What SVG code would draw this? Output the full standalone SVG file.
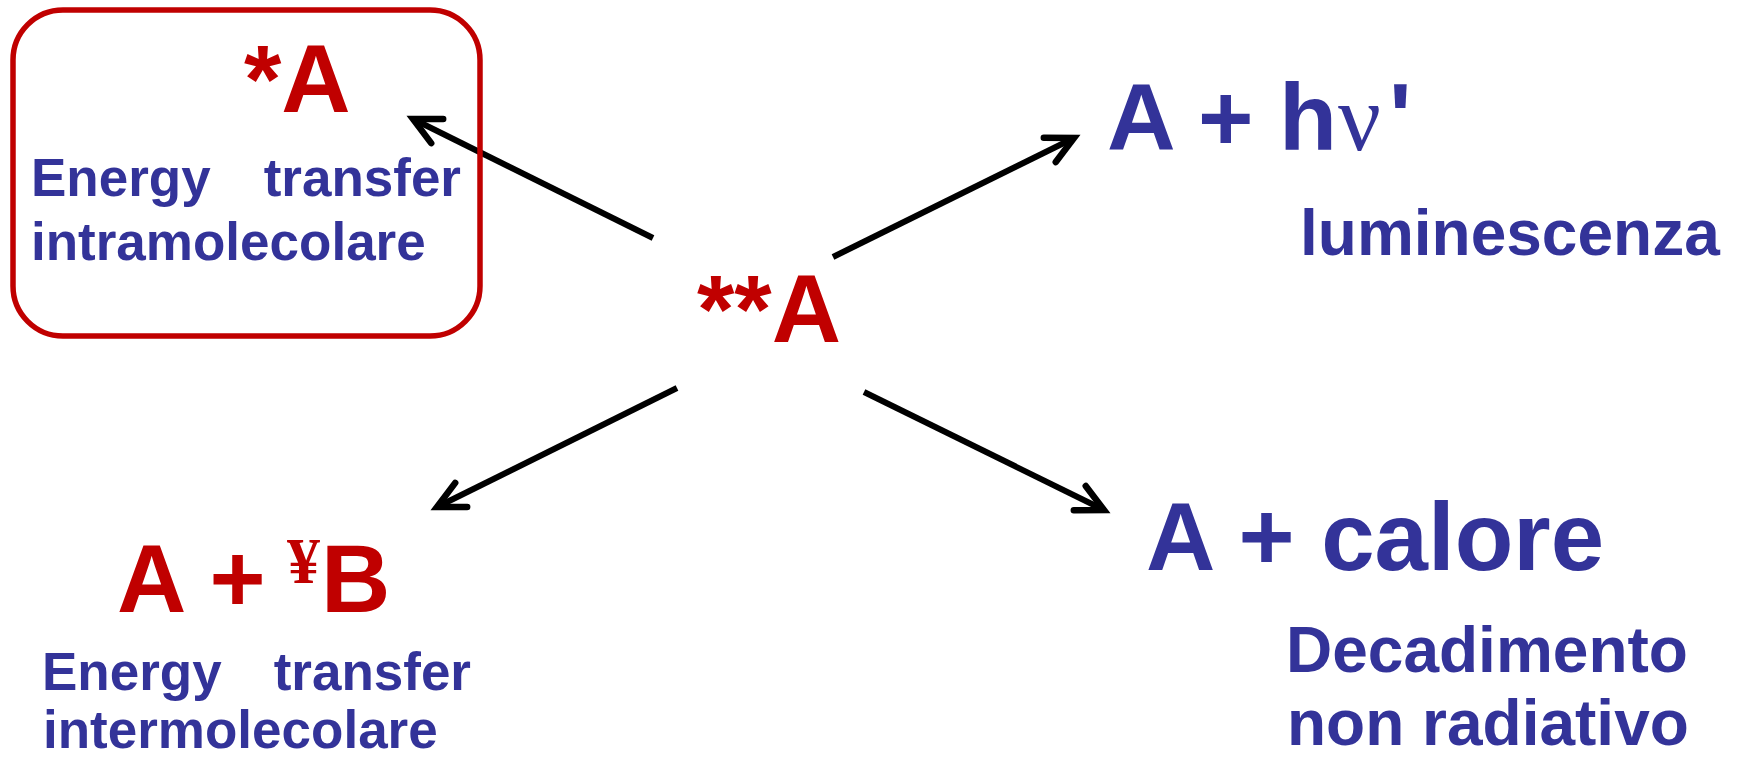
<svg xmlns="http://www.w3.org/2000/svg" width="1740" height="759" viewBox="0 0 1740 759">
  <style>
    .red { fill: #C00000; }
    .blue { fill: #333399; }
    .sans { font-family: "Liberation Sans", Arial, sans-serif; font-weight: bold; }
    .serif { font-family: "Liberation Serif", "Times New Roman", serif; }
    .big { font-size: 96px; }
    .mid { font-size: 64px; }
    .small { font-size: 53px; }
    .conn { stroke: #000; stroke-width: 6; fill: none; stroke-linecap: butt; marker-end: url(#arrow); }
  </style>
  <defs>
    <marker id="arrow" markerUnits="userSpaceOnUse" viewBox="-40 -20 50 40" markerWidth="50" markerHeight="40" refX="0" refY="0" orient="auto" overflow="visible">
      <path d="M-27,-13.5 L0,0 L-27,13.5" fill="none" stroke="#000" stroke-width="6.5" stroke-linejoin="miter" stroke-miterlimit="10" stroke-linecap="round"/>
    </marker>
  </defs>
  <rect width="1740" height="759" fill="#fff"/>

  <g id="connectors">
    <line class="conn" x1="653" y1="238" x2="413" y2="119"/>
    <line class="conn" x1="833" y1="257" x2="1074" y2="138"/>
    <line class="conn" x1="677" y1="388" x2="437" y2="507"/>
    <line class="conn" x1="864" y1="392" x2="1104" y2="510"/>
  </g>

  <g id="node-intra">
    <rect x="13" y="10" width="467" height="326" rx="50" ry="50" fill="none" stroke="#C00000" stroke-width="5.5"/>
    <text class="sans big red" x="244" y="112">*A</text>
    <text class="sans small blue" x="31" y="196">Energy</text>
    <text class="sans small blue" x="461" y="196" text-anchor="end">transfer</text>
    <text class="sans small blue" x="31" y="260">intramolecolare</text>
  </g>

  <g id="node-center">
    <text class="sans big red" x="697" y="342">**A</text>
  </g>

  <g id="node-lumi">
    <text class="sans blue" style="font-size:95px" y="150"><tspan x="1107">A</tspan><tspan x="1198">+</tspan><tspan x="1279">h</tspan><tspan x="1338" class="serif" style="font-weight:normal">ν</tspan><tspan x="1389">'</tspan></text>
    <text class="sans mid blue" x="1300" y="255">luminescenza</text>
  </g>

  <g id="node-inter">
    <text class="sans big red" y="612"><tspan x="117">A +</tspan><tspan x="287" dy="-29" class="serif" style="font-size:66px">¥</tspan><tspan x="321" dy="29">B</tspan></text>
    <text class="sans small blue" x="42" y="690">Energy</text>
    <text class="sans small blue" x="471" y="690" text-anchor="end">transfer</text>
    <text class="sans small blue" x="43" y="748">intermolecolare</text>
  </g>

  <g id="node-calore">
    <text class="sans big blue" x="1146" y="570">A + calore</text>
    <text class="sans mid blue" x="1286" y="672">Decadimento</text>
    <text class="sans mid blue" x="1287" y="745">non radiativo</text>
  </g>
</svg>
